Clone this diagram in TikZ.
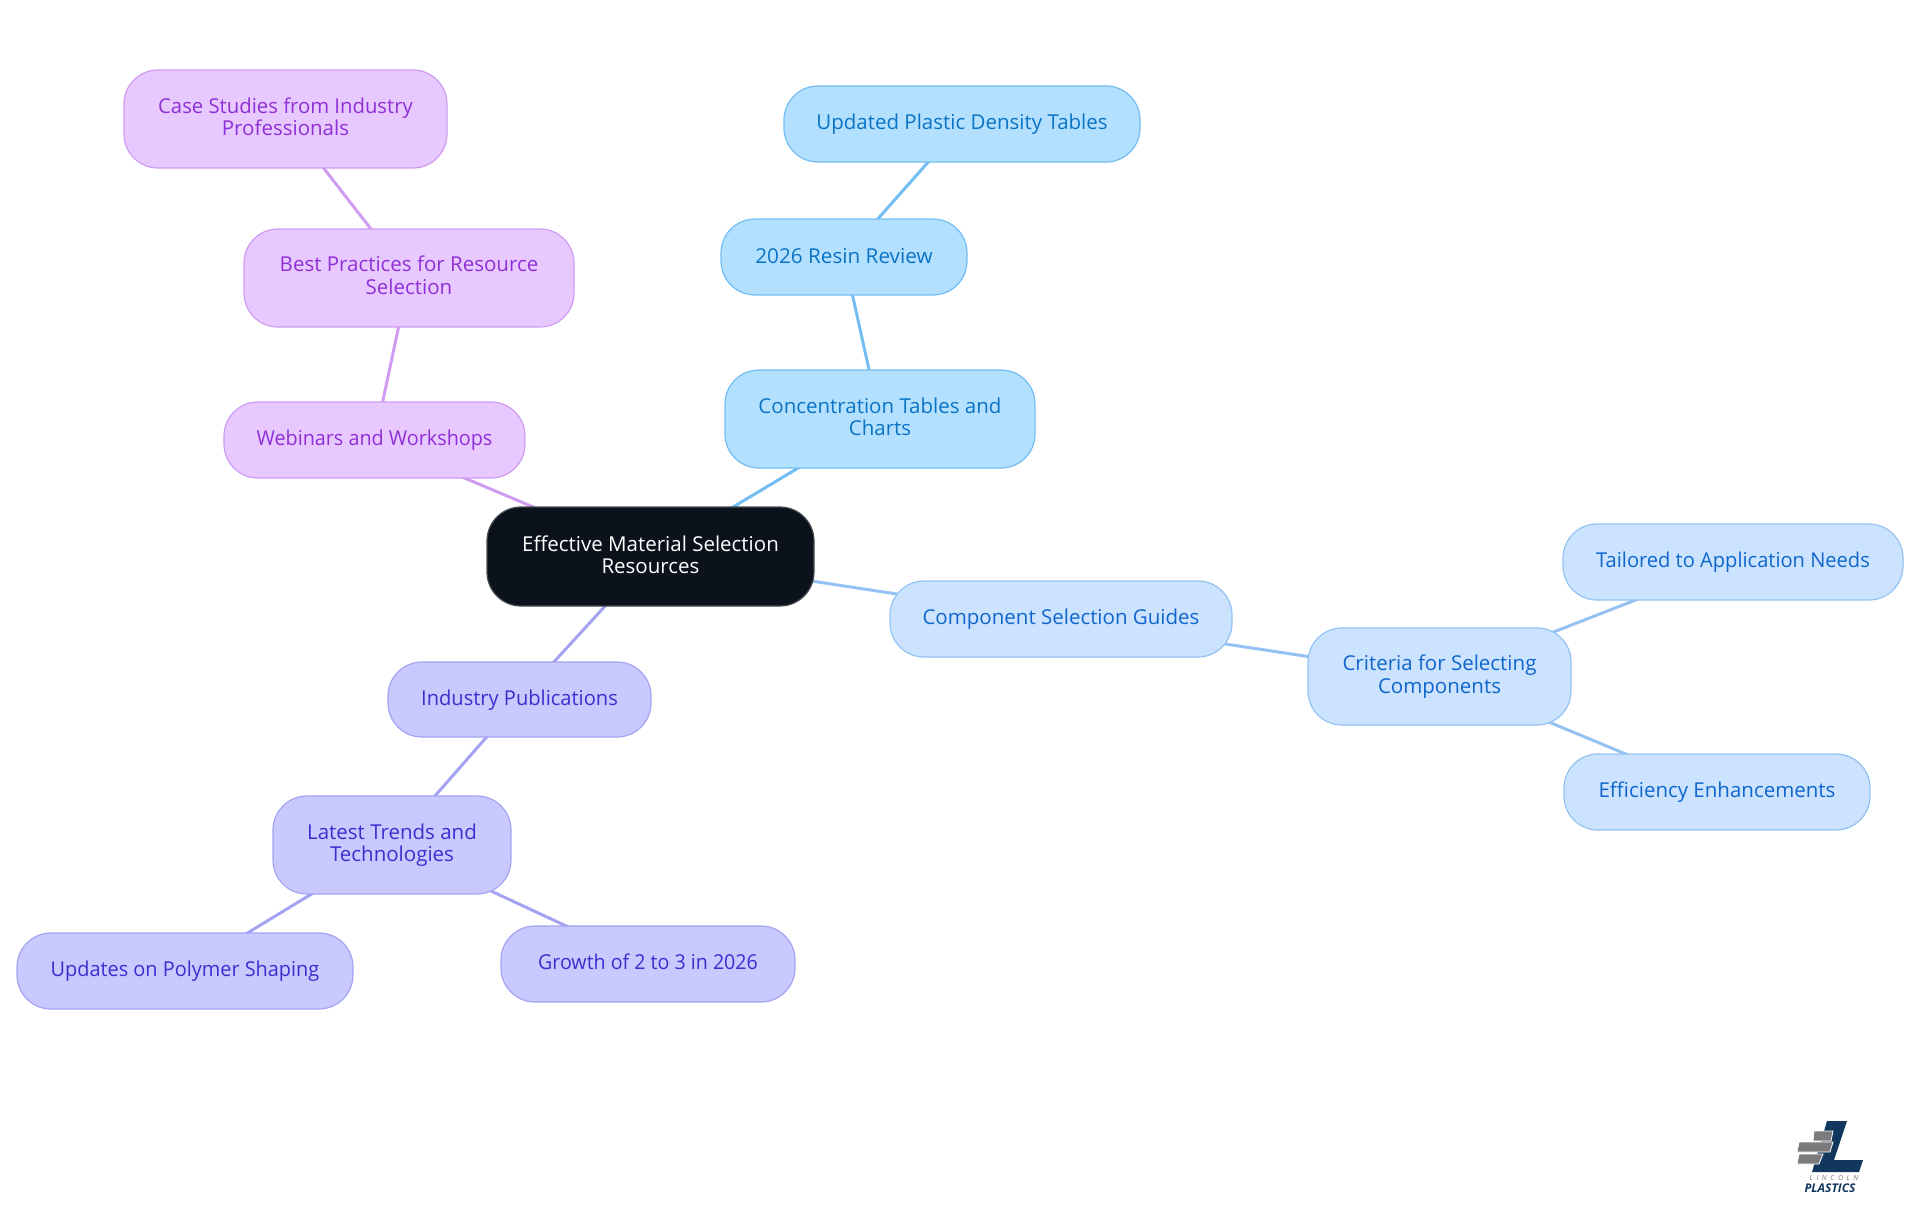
\documentclass[tikz,border=0pt]{standalone}
\usepackage{fontspec}
\setmainfont{Open Sans}
\usetikzlibrary{backgrounds}
\definecolor{rootfill}{HTML}{0B121B}
\definecolor{bluefill}{HTML}{B3E0FF}
\definecolor{blueline}{HTML}{74BDF2}
\definecolor{bluetext}{HTML}{0A73C4}
\definecolor{ltfill}{HTML}{CCE3FF}
\definecolor{ltline}{HTML}{94C2F2}
\definecolor{lttext}{HTML}{0F66CC}
\definecolor{purfill}{HTML}{E8C9FF}
\definecolor{purline}{HTML}{CF9CF2}
\definecolor{purtext}{HTML}{8F2FD6}
\definecolor{indfill}{HTML}{C9C9FF}
\definecolor{indline}{HTML}{A3A3F2}
\definecolor{indtext}{HTML}{3730CF}
\definecolor{logoblue}{HTML}{12375F}
\definecolor{logogray}{HTML}{7B7B7D}
\tikzset{
 box/.style={rounded corners=34pt,line width=1.2pt,align=center,inner sep=0pt,font=\fontsize{20.5}{22.5}\selectfont},
 rootbox/.style={box,fill=rootfill,draw=rootfill!75!white,text=white},
 bluebox/.style={box,fill=bluefill,draw=blueline,text=bluetext},
 ltbox/.style={box,fill=ltfill,draw=ltline,text=lttext},
 purbox/.style={box,fill=purfill,draw=purline,text=purtext},
 indbox/.style={box,fill=indfill,draw=indline,text=indtext},
 link/.style={line width=3pt},
 logobar/.style={fill=logogray,draw=white,line width=0.8pt},
}
% name, style, x0, x1, y0, y1, text, horizontal stretch, strut depth
\newcommand{\mapnode}[9]{%
 \node[#2,minimum width=#4pt-#3pt,minimum height=#6pt-#5pt] (#1) at ({(#3+#4)/2},{(#5+#6)/2})
  {\addfontfeature{FakeStretch=#8}\rule{0pt}{16pt}#7\rule[-#9pt]{0pt}{#9pt}};}
\begin{document}
\begin{tikzpicture}[x=1pt,y=-1pt]
\useasboundingbox (0,0) rectangle (1920,1215);
\mapnode{root}{rootbox}{487}{814}{507}{606}{Effective Material Selection\\Resources}{1}{4.5}
\mapnode{conc}{bluebox}{725}{1035}{370}{468}{Concentration Tables and\\Charts}{1}{5.5}
\mapnode{resin}{bluebox}{721}{967}{219}{295}{2026 Resin Review}{1.01}{4}
\mapnode{updated}{bluebox}{784}{1140}{86}{162}{Updated Plastic Density Tables}{1}{5}
\mapnode{comp}{ltbox}{890}{1232}{581}{657}{Component Selection Guides}{1}{4}
\mapnode{crit}{ltbox}{1308}{1571}{628}{725}{Criteria for Selecting\\Components}{1}{4.5}
\mapnode{tail}{ltbox}{1563}{1903}{524}{600}{Tailored to Application Needs}{0.98}{6}
\mapnode{effic}{ltbox}{1564}{1870}{754}{830}{Efficiency Enhancements}{1}{4}
\mapnode{web}{purbox}{224}{525}{402}{478}{Webinars and Workshops}{0.965}{5}
\mapnode{best}{purbox}{244}{574}{229}{327}{Best Practices for Resource\\Selection}{1}{6.5}
\mapnode{case}{purbox}{124}{447}{70}{168}{Case Studies from Industry\\Professionals}{0.99}{5.5}
\mapnode{ind}{indbox}{388}{651}{662}{737}{Industry Publications}{0.98}{5}
\mapnode{latest}{indbox}{273}{511}{796}{894}{Latest Trends and\\Technologies}{1}{4.5}
\mapnode{poly}{indbox}{17}{353}{933}{1009}{Updates on Polymer Shaping}{0.97}{2}
\mapnode{growth}{indbox}{501}{795}{926}{1002}{Growth of 2 to 3 in 2026}{0.957}{6}
\begin{scope}[on background layer]
\draw[link,blueline] (root.center)--(conc.center);
\draw[link,blueline] (conc.center)--(resin.center);
\draw[link,blueline] (resin.center)--(updated.center);
\draw[link,ltline] (root.center)--(comp.center);
\draw[link,ltline] (comp.center)--(crit.center);
\draw[link,ltline] (crit.center)--(tail.center);
\draw[link,ltline] (crit.center)--(effic.center);
\draw[link,purline] (root.center)--(web.center);
\draw[link,purline] (web.center)--(best.center);
\draw[link,purline] (best.center)--(case.center);
\draw[link,indline] (root.center)--(ind.center);
\draw[link,indline] (ind.center)--(latest.center);
\draw[link,indline] (latest.center)--(poly.center);
\draw[link,indline] (latest.center)--(growth.center);
\end{scope}
% logo
\fill[logoblue] (1827,1121)--(1847,1121)--(1834,1160)--(1863,1160)--(1859,1172)--(1812,1172)--cycle;
\path[logobar] (1814,1131)--(1833,1131)--(1831,1141)--(1813,1141)--cycle;
\path[logobar] (1799,1142)--(1833,1142)--(1830,1152)--(1797,1152)--cycle;
\path[logobar] (1799,1154)--(1823,1154)--(1819,1164)--(1797,1164)--cycle;
\node[font=\fontsize{7}{7}\itshape\selectfont,text=logogray] (lg1) at (1834,1178) {L\,\,\,I\,\,\,N\,\,\,C\,\,\,O\,\,\,L\,\,\,N};
\node[font=\fontsize{12}{12}\bfseries\itshape\selectfont,text=logoblue] (lg2) at (1830,1188.5) {PLASTICS};
\end{tikzpicture}
\end{document}
